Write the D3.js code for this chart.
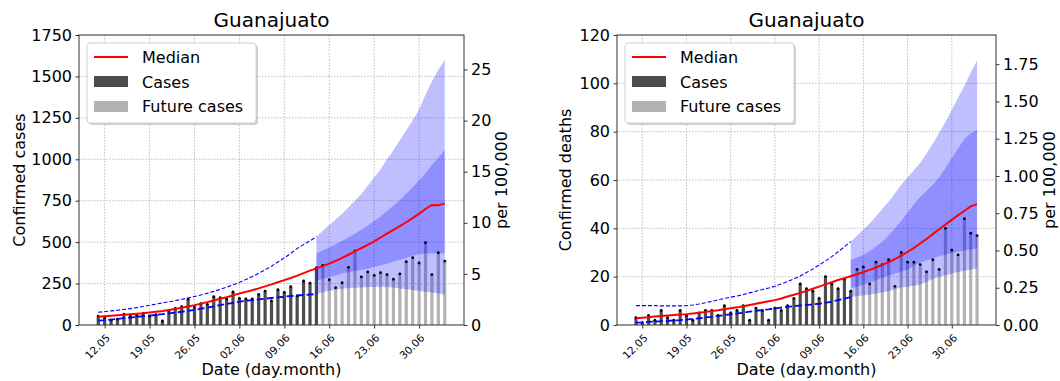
<!DOCTYPE html>
<html><head><meta charset="utf-8">
<script src="https://cdn.jsdelivr.net/npm/d3@7"></script>
<style>
body{margin:0;background:#fff}
svg{display:block;font-family:"DejaVu Sans",sans-serif}
</style>
</head><body>
<svg id="c" width="1060" height="381"></svg>
<script>
// ---------- data ----------
const obsDays = ["11.05","12.05","13.05","14.05","15.05","16.05","17.05","18.05","19.05","20.05","21.05","22.05","23.05","24.05","25.05","26.05","27.05","28.05","29.05","30.05","31.05",
  "01.06","02.06","03.06","04.06","05.06","06.06","07.06","08.06","09.06","10.06","11.06","12.06","13.06","14.06"];
const futDays = ["15.06","16.06","17.06","18.06","19.06","20.06","21.06","22.06","23.06","24.06","25.06","26.06","27.06","28.06","29.06","30.06","01.07","02.07","03.07","04.07"];
const bandDays = ["14.06","15.06","16.06","17.06","18.06","19.06","20.06","21.06","22.06","23.06","24.06","25.06","26.06","27.06","28.06","29.06","30.06","01.07","02.07","03.07","04.07"];
const allDays = obsDays.concat(futDays);
const tickLabels = ["12.05","19.05","26.05","02.06","09.06","16.06","23.06","30.06"];
const domainDays = ["08.05","07.07"];
const population = 6166934;

const casesObs = [54,44,30,36,66,54,58,70,54,62,24,86,100,110,157,108,129,125,171,165,157,199,161,157,157,185,205,145,213,197,231,175,266,253,346];
const casesFut = [360,273,225,255,348,447,290,320,300,316,304,276,308,382,406,374,497,304,436,386];
const casesMedian = [50,53,56,59,62,65,68,71,75,80,85,91,97,104,112,120,129,138,148,158,168,
  179,190,200,210,221,233,245,258,271,284,298,313,328,342,355,370,387,405,424,444,464,484,505,528,551,574,597,620,645,672,
  700,724,722,734];
const casesUpper = [77,81,85,89,94,99,105,112,119,126,133,140,147,155,163,172,181,192,203,215,228,
  242,257,274,292,312,333,355,380,405,432,462,485,508,533];
const casesLower = [26,29,33,37,41,45,49,53,57,61,65,70,75,80,85,91,98,105,112,120,127,
  134,141,146,150,155,159,163,167,171,175,178,181,184,187];
const casesOuterHi = [533,568,603,637,672,710,750,790,840,890,940,1000,1055,1115,1175,1235,1300,1390,1470,1540,1600];
const casesInnerHi = [432,450,469,487,507,528,550,575,600,627,655,688,720,755,792,832,872,915,965,1010,1056];
const casesInnerLo = [268,278,288,299,311,320,326,332,340,350,360,370,382,393,405,418,427,432,433,432,431];
const casesOuterLo = [187,197,207,213,219,223,225,227,229,230,231,230,226,221,216,211,206,201,196,191,183];
const casesTicks = [0,250,500,750,1000,1250,1500,1750];
const casesRightTicks = [0,5,10,15,20,25];

const deathsObs = [3,1,4,2,6,3,2,6,4,2,5,6,6,4,8,5,6,8,2,7,6,2,7,6,8,11,17,15,14,11,20,17,15,19,14];
const deathsFut = [23,24,17,26,25,27,16,30,26,26,25,22,27,23,40,31,29,44,38,37];
const deathsMedian = [2.8,3.0,3.2,3.5,3.7,3.9,4.1,4.3,4.5,4.8,5.1,5.4,5.8,6.1,6.5,6.9,7.3,7.8,8.3,8.8,9.3,
  9.8,10.3,11.0,11.8,12.5,13.3,14.1,15.0,15.9,16.8,17.7,18.6,19.4,20.2,21.0,21.9,22.8,23.8,24.9,26.0,27.3,28.7,30.2,31.9,33.7,35.6,37.6,39.6,41.6,43.5,
  45.4,47.3,49.1,50.0];
const deathsUpper = [8.0,8.0,8.0,8.0,7.9,7.9,7.9,7.9,8.0,8.3,8.7,9.2,9.8,10.4,11.0,11.5,12.0,12.6,13.3,14.0,14.7,
  15.3,16.0,17.0,18.0,19.1,20.3,21.7,23.2,24.8,26.5,28.3,30.3,32.4,34.5];
const deathsLower = [1.0,1.1,1.3,1.4,1.6,1.7,1.9,2.0,2.2,2.5,2.8,3.1,3.4,3.8,4.1,4.4,4.8,5.1,5.5,5.9,6.2,
  6.5,6.9,7.2,7.5,7.8,8.1,8.3,8.5,8.8,9.2,9.7,10.3,10.9,11.5];
const deathsOuterHi = [34.5,37.0,39.5,42.0,45.0,48.0,51.0,54.5,58.0,61.0,64.0,67.0,71.0,75.0,79.5,84.0,89.0,94.0,99.0,104.5,109.5];
const deathsInnerHi = [26.9,27.9,29.0,30.5,32.5,34.5,37.0,40.0,43.0,46.5,50.0,53.0,55.5,58.0,61.0,65.0,69.0,73.0,77.0,79.5,80.7];
const deathsInnerLo = [15.2,15.8,16.8,17.5,18.5,19.5,20.5,21.3,22.0,23.0,24.5,25.8,26.7,27.6,28.5,29.2,29.8,30.3,30.8,31.3,31.7];
const deathsOuterLo = [11.7,11.9,12.2,12.6,13.0,13.4,14.0,14.8,15.5,15.8,16.2,16.8,17.8,19.0,20.0,20.6,21.2,21.9,22.5,23.0,23.4];
const deathsTicks = [0,20,40,60,80,100,120];
const deathsRightTicks = [0,0.25,0.5,0.75,1.0,1.25,1.5,1.75];

const legendLabels = ["Median","Cases","Future cases"];

// ---------- drawing ----------
const parse = d3.utcParse("%d.%m");
const svg = d3.select("#c");

function panel(c) {
  const g = svg.append("g");
  const x = d3.scaleUtc().domain(domainDays.map(parse)).range([c.x0, c.x1]);
  const y = d3.scaleLinear().domain([0, c.yMax]).range([c.y1, c.y0]);
  const y2 = d3.scaleLinear().domain([0, c.yMax * 1e5 / population]).range([c.y1, c.y0]);
  const bw = (x(parse("12.05")) - x(parse("11.05"))) * 0.5;

  const cid = "clip" + c.id;
  svg.append("clipPath").attr("id", cid).append("rect")
    .attr("x", c.x0).attr("y", c.y0).attr("width", c.x1 - c.x0).attr("height", c.y1 - c.y0);
  const p = g.append("g").attr("clip-path", `url(#${cid})`);

  // grid
  const tickDates = tickLabels.map(parse);
  p.selectAll(".gx").data(tickDates).join("line")
    .attr("x1", d => x(d)).attr("x2", d => x(d)).attr("y1", c.y0).attr("y2", c.y1)
    .attr("stroke", "#b0b0b0").attr("stroke-width", 0.8).attr("stroke-dasharray", "1.5,1.5");
  p.selectAll(".gy").data(c.yTicks).join("line")
    .attr("x1", c.x0).attr("x2", c.x1).attr("y1", d => y(d)).attr("y2", d => y(d))
    .attr("stroke", "#b0b0b0").attr("stroke-width", 0.8).attr("stroke-dasharray", "1.5,1.5");

  // bars
  p.selectAll(".bo").data(c.obs).join("rect")
    .attr("x", (d, i) => x(parse(obsDays[i])) - bw / 2).attr("width", bw)
    .attr("y", d => y(d)).attr("height", d => y(0) - y(d)).attr("fill", "#4d4d4d");
  p.selectAll(".bf").data(c.fut).join("rect")
    .attr("x", (d, i) => x(parse(futDays[i])) - bw / 2).attr("width", bw)
    .attr("y", d => y(d)).attr("height", d => y(0) - y(d)).attr("fill", "#b3b3b3");

  // bands
  const area = (lo, hi) => d3.area()
    .x((d, i) => x(parse(bandDays[i]))).y0((d, i) => y(lo[i])).y1((d, i) => y(hi[i]))(lo);
  p.append("path").attr("d", area(c.outerLo, c.outerHi)).attr("fill", "rgba(0,0,255,0.25)");
  p.append("path").attr("d", area(c.innerLo, c.innerHi)).attr("fill", "rgba(0,0,255,0.25)");

  // dots
  const allVals = c.obs.concat(c.fut);
  p.selectAll(".dt").data(allVals).join("circle")
    .attr("cx", (d, i) => x(parse(allDays[i]))).attr("cy", d => y(d)).attr("r", 1.4).attr("fill", "#000");

  // dashed lines
  const ln = d3.line().x((d, i) => x(parse(obsDays[i]))).y(d => y(d));
  p.append("path").attr("d", ln(c.upper)).attr("fill", "none").attr("stroke", "blue")
    .attr("stroke-width", 1.1).attr("stroke-dasharray", "4,2");
  p.append("path").attr("d", ln(c.lower)).attr("fill", "none").attr("stroke", "blue")
    .attr("stroke-width", 1.8).attr("stroke-dasharray", "7,3");

  // median
  const lm = d3.line().x((d, i) => x(parse(allDays[i]))).y(d => y(d));
  p.append("path").attr("d", lm(c.median)).attr("fill", "none").attr("stroke", "red").attr("stroke-width", 2);

  // axes
  const ax = g.append("g").attr("transform", `translate(${c.x0},0)`)
    .call(d3.axisLeft(y).tickValues(c.yTicks).tickSize(3.5).tickPadding(3.5).tickFormat(d3.format("d")));
  const ax2 = g.append("g").attr("transform", `translate(${c.x1},0)`)
    .call(d3.axisRight(y2).tickValues(c.rTicks).tickSize(3.5).tickPadding(3.5).tickFormat(c.rFmt));
  const axb = g.append("g").attr("transform", `translate(0,${c.y1})`)
    .call(d3.axisBottom(x).tickValues(tickDates).tickSize(3.5).tickFormat((d, i) => tickLabels[i]));
  [ax, ax2].forEach(a => {
    a.select(".domain").remove();
    a.selectAll("text").attr("font-size", 16).attr("fill", "#000").attr("font-family", "DejaVu Sans");
    a.selectAll("line").attr("stroke", "#333");
  });
  axb.select(".domain").remove();
  axb.selectAll("line").attr("stroke", "#333");
  axb.selectAll("text").attr("font-size", 10.5).attr("fill", "#000").attr("font-family", "DejaVu Sans")
    .attr("text-anchor", "end").attr("y", 0).attr("dy", "0.35em")
    .attr("transform", "translate(3,11) rotate(-45)");

  // spines
  g.append("rect").attr("x", c.x0).attr("y", c.y0).attr("width", c.x1 - c.x0).attr("height", c.y1 - c.y0)
    .attr("fill", "none").attr("stroke", "#333").attr("stroke-width", 1);

  // labels
  g.append("text").attr("x", (c.x0 + c.x1) / 2).attr("y", 27).attr("text-anchor", "middle")
    .attr("font-size", 20).text(c.title);
  g.append("text").attr("x", (c.x0 + c.x1) / 2).attr("y", 375).attr("text-anchor", "middle")
    .attr("font-size", 16).text("Date (day.month)");
  g.append("text").attr("transform", `translate(${c.ylx},${(c.y0 + c.y1) / 2}) rotate(-90)`)
    .attr("text-anchor", "middle").attr("font-size", 16).text(c.ylabel);
  g.append("text").attr("transform", `translate(${c.y2lx},${(c.y0 + c.y1) / 2}) rotate(-90)`)
    .attr("text-anchor", "middle").attr("font-size", 16).text("per 100,000");

  // legend
  const L = g.append("g").attr("transform", `translate(${c.legX},43)`);
  L.append("rect").attr("x", 2).attr("y", 2).attr("width", 169).attr("height", 80).attr("rx", 3)
    .attr("fill", "#000").attr("opacity", 0.18);
  L.append("rect").attr("width", 169).attr("height", 80).attr("rx", 3)
    .attr("fill", "#fff").attr("stroke", "#d0d0d0").attr("stroke-width", 1);
  L.append("line").attr("x1", 7).attr("x2", 41).attr("y1", 14).attr("y2", 14).attr("stroke", "red").attr("stroke-width", 2);
  L.append("rect").attr("x", 7).attr("y", 33).attr("width", 34).attr("height", 11).attr("fill", "#4d4d4d");
  L.append("rect").attr("x", 7).attr("y", 58).attr("width", 34).attr("height", 11).attr("fill", "#b3b3b3");
  L.selectAll(".lt").data(legendLabels).join("text")
    .attr("x", 55).attr("y", (d, i) => 20 + i * 24.5).attr("font-size", 16).text(d => d);
}

panel({id: "a", x0: 79, x1: 464, y0: 35, y1: 325, yMax: 1750, yTicks: casesTicks, rTicks: casesRightTicks,
  rFmt: d3.format("d"), obs: casesObs, fut: casesFut, median: casesMedian, upper: casesUpper, lower: casesLower,
  outerHi: casesOuterHi, innerHi: casesInnerHi, innerLo: casesInnerLo, outerLo: casesOuterLo,
  title: "Guanajuato", ylabel: "Confirmed cases", ylx: 25, y2lx: 507, legX: 87});
panel({id: "b", x0: 617, x1: 996, y0: 35, y1: 325, yMax: 120, yTicks: deathsTicks, rTicks: deathsRightTicks,
  rFmt: d3.format(".2f"), obs: deathsObs, fut: deathsFut, median: deathsMedian, upper: deathsUpper, lower: deathsLower,
  outerHi: deathsOuterHi, innerHi: deathsInnerHi, innerLo: deathsInnerLo, outerLo: deathsOuterLo,
  title: "Guanajuato", ylabel: "Confirmed deaths", ylx: 571, y2lx: 1055, legX: 625});
</script>
</body></html>
